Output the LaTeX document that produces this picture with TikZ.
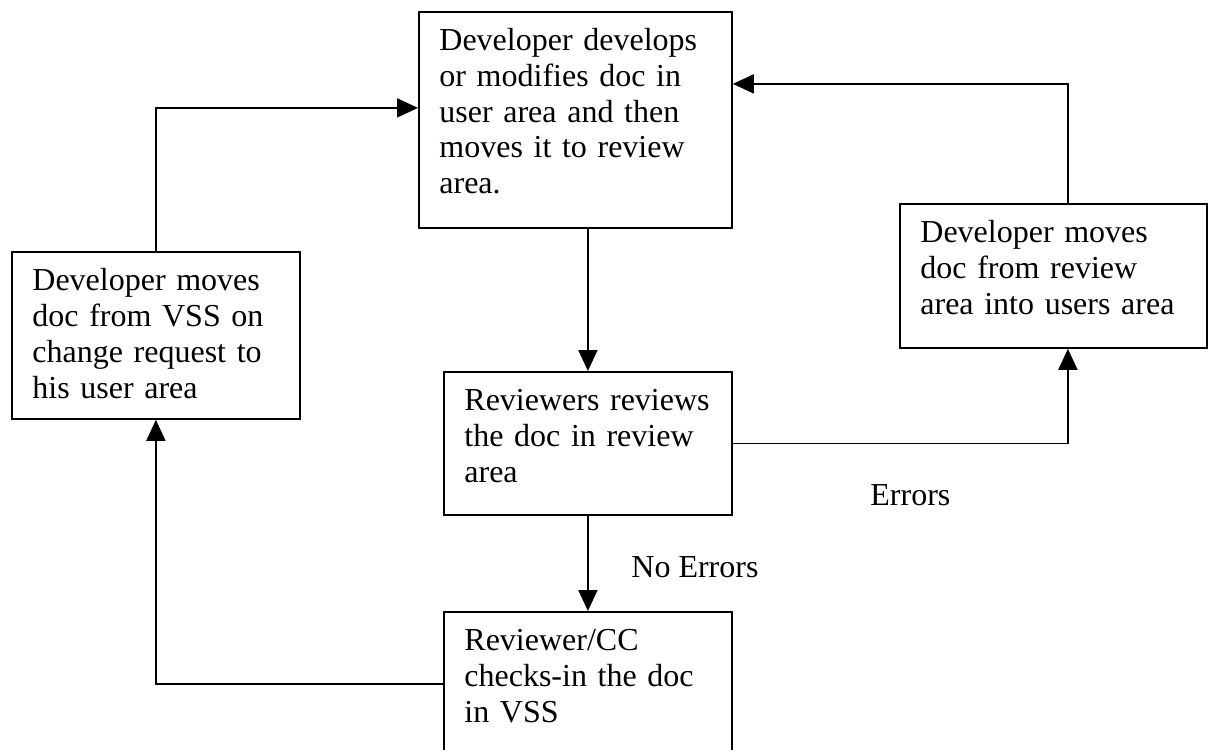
\documentclass[tikz,border=0pt]{standalone}
\usepackage{fontspec}
\setmainfont{Liberation Serif}
\usetikzlibrary{arrows.meta}

\begin{document}
\begin{tikzpicture}[x=0.5pt, y=-0.5pt,
    proc/.style={draw=black, line width=0.9pt, rectangle, anchor=north west,
                 align=left, inner xsep=10.25pt, inner ysep=0pt,
                 text height=19.5pt,
                 font=\fontsize{16pt}{17.85pt}\selectfont},
    flow/.style={draw=black, line width=0.9pt,
                 -{Triangle[length=10.5pt, width=9.5pt]}},
    lab/.style={anchor=base west, inner sep=0pt,
                font=\fontsize{16pt}{17.85pt}\selectfont}]
  \useasboundingbox (0,0) rectangle (1209,749);
  \node[proc, text width=136pt,   text depth=88.5pt] (dev) at (418,11)
    {Developer develops\\or modifies doc in\\user area and then\\moves it to review\\area.};
  \node[proc, text width=123.5pt, text depth=64pt]   (vss) at (11,251)
    {Developer moves\\doc from VSS on\\change request to\\his user area};
  \node[proc, text width=133pt,   text depth=52.5pt] (back) at (899,203)
    {Developer moves\\doc from review\\area into users area};
  \node[proc, text width=123.5pt, text depth=52pt]   (rev) at (443,371)
    {Reviewers reviews\\the doc in review\\area};
  \node[proc, text width=123.5pt, text depth=52.5pt] (chk) at (443,611)
    {Reviewer/CC\\checks-in the doc\\in VSS};
  % connectors
  \draw[flow] (vss.north) |- ([yshift=6pt]dev.west);
  \draw[flow] (dev.south -| rev.north) -- (rev.north);
  \draw[flow] (rev.east) -| ([xshift=7.25pt]back.south);
  \draw[flow] ([xshift=7.25pt]back.north) |- ([yshift=18pt]dev.east);
  \draw[flow] (rev.south) -- (chk.north);
  \draw[flow] (chk.west) -| (vss.south);
  \node[lab] (err)   at (870,505) {Errors};
  \node[lab] (noerr) at (631,577) {No Errors};
\end{tikzpicture}
\end{document}
